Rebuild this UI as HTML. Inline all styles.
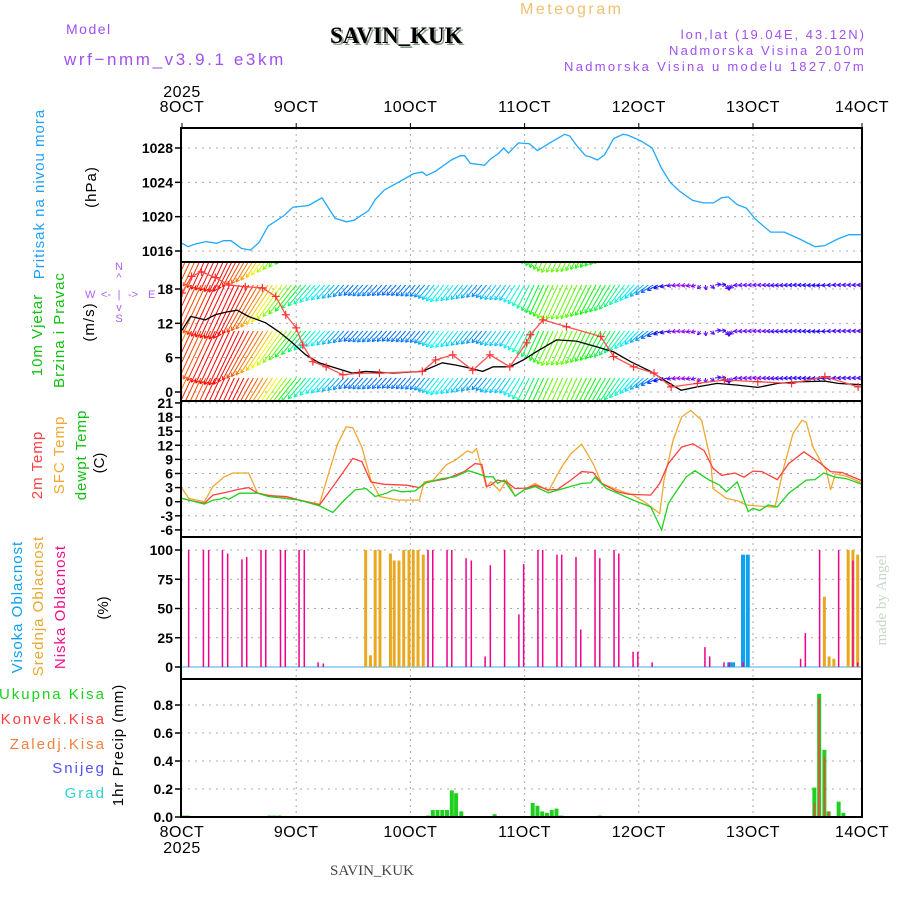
<!DOCTYPE html>
<html><head><meta charset="utf-8">
<style>
body{margin:0;background:#fff;}
svg{display:block;font-family:"Liberation Sans",sans-serif;}
.tk{font-size:14px;font-weight:bold;fill:#000;text-anchor:end;}
.dl{font-size:16px;fill:#000;text-anchor:middle;letter-spacing:0.5px;}
</style></head>
<body>
<svg id="chart" width="900" height="900" viewBox="0 0 900 900">
<defs>
<clipPath id="cpP"><rect x="181" y="128" width="681" height="134"/></clipPath>
<clipPath id="cpW"><rect x="181" y="263" width="681" height="137"/></clipPath>
<clipPath id="cpT"><rect x="181" y="402" width="681" height="134"/></clipPath>
<clipPath id="cpAll"><rect x="181" y="128" width="681" height="700"/></clipPath>
</defs>
<g>
<text x="66" y="34" font-size="14" fill="#a050f0" letter-spacing="1.5">Model</text>
<text x="64" y="65" font-size="17" fill="#a050f0" letter-spacing="2.6">wrf−nmm_v3.9.1 e3km</text>
<text x="332" y="45" font-size="23" font-weight="bold" font-family="Liberation Serif,serif" fill="#8a9a8a">SAVIN_KUK</text>
<text x="330" y="43" font-size="23" font-weight="bold" font-family="Liberation Serif,serif" fill="#000">SAVIN_KUK</text>
<text x="520" y="14" font-size="16" fill="#f0c070" letter-spacing="2.5">Meteogram</text>
<text x="866" y="39" font-size="13" fill="#a050f0" text-anchor="end" letter-spacing="2">lon,lat (19.04E, 43.12N)</text>
<text x="866" y="55" font-size="13" fill="#a050f0" text-anchor="end" letter-spacing="2.2">Nadmorska Visina 2010m</text>
<text x="866" y="71" font-size="13" fill="#a050f0" text-anchor="end" letter-spacing="2.3">Nadmorska Visina u modelu 1827.07m</text>
</g>
<g id="axes"></g>
<g id="marks"></g>
<g font-size="15">
<text transform="translate(44,194) rotate(-90)" text-anchor="middle" fill="#20a0ff" letter-spacing="1">Pritisak na nivou mora</text>
<text transform="translate(96,187) rotate(-90)" text-anchor="middle" fill="#000" letter-spacing="1">(hPa)</text>
<text transform="translate(42,335) rotate(-90)" text-anchor="middle" fill="#10c010" letter-spacing="1">10m Vjetar</text>
<text transform="translate(64,330) rotate(-90)" text-anchor="middle" fill="#10c010" letter-spacing="1">Brzina i Pravac</text>
<text transform="translate(94,322) rotate(-90)" text-anchor="middle" fill="#000" letter-spacing="1">(m/s)</text>
<g fill="#b060f0" font-size="11">
<text x="119" y="270" text-anchor="middle">N</text>
<text x="119" y="281" text-anchor="middle">^</text>
<text x="85" y="298">W</text>
<text x="101" y="298">&lt;-</text>
<text x="119" y="298" text-anchor="middle">|</text>
<text x="128" y="298">-&gt;</text>
<text x="148" y="298">E</text>
<text x="119" y="311" text-anchor="middle">v</text>
<text x="119" y="322" text-anchor="middle">S</text>
</g>
<text transform="translate(42,465) rotate(-90)" text-anchor="middle" fill="#ff4040" letter-spacing="1">2m Temp</text>
<text transform="translate(64,455) rotate(-90)" text-anchor="middle" fill="#f0a830" letter-spacing="1">SFC Temp</text>
<text transform="translate(86,455) rotate(-90)" text-anchor="middle" fill="#10c010" letter-spacing="1">dewpt Temp</text>
<text transform="translate(104,463) rotate(-90)" text-anchor="middle" fill="#000">(C)</text>
<text transform="translate(22,607) rotate(-90)" text-anchor="middle" fill="#10a0f0" letter-spacing="1">Visoka Oblacnost</text>
<text transform="translate(43,606) rotate(-90)" text-anchor="middle" fill="#e8a830" letter-spacing="1">Srednja Oblacnost</text>
<text transform="translate(65,607) rotate(-90)" text-anchor="middle" fill="#f0108c" letter-spacing="1">Niska Oblacnost</text>
<text transform="translate(108,608) rotate(-90)" text-anchor="middle" fill="#000">(%)</text>
<text x="106" y="699" text-anchor="end" fill="#20d020" letter-spacing="2">Ukupna  Kisa</text>
<text x="106" y="724" text-anchor="end" fill="#ff4040" letter-spacing="2">Konvek.Kisa</text>
<text x="106" y="749" text-anchor="end" fill="#f08040" letter-spacing="2">Zaledj.Kisa</text>
<text x="106" y="773" text-anchor="end" fill="#5050ff" letter-spacing="2">Snijeg</text>
<text x="106" y="798" text-anchor="end" fill="#30d0d0" letter-spacing="2">Grad</text>
<text transform="translate(123,745) rotate(-90)" text-anchor="middle" fill="#000" letter-spacing="1">1hr Precip (mm)</text>
</g>
<text transform="translate(886,600) rotate(-90)" text-anchor="middle" font-size="15" font-family="Liberation Serif,serif" fill="#c8d8c8">made by Angel</text>
<text x="330" y="875" font-size="15" font-family="Liberation Serif,serif" fill="#444">SAVIN_KUK</text>
</svg>
<script>
// ---------- DATA ----------
const dayLabels = ["8OCT","9OCT","10OCT","11OCT","12OCT","13OCT","14OCT"];
const presTicks = [1016,1020,1024,1028];
const windTicks = [0,6,12,18];
const tempTicks = [-6,-3,0,3,6,9,12,15,18,21];
const cloudTicks = [0,25,50,75,100];
const precipTicks = [0,0.2,0.4,0.6,0.8];

const presHours = [0,1.3,2.7,5,7.3,8.7,10.3,12.5,14.4,16.2,18.1,21.4,23.3,26.6,29.4,32.2,34.6,36.2,39.2,40.6,42.5,45.8,48.6,50.5,51.4,53.3,56.6,58.5,59.4,60.6,63.6,64.8,66.6,67.6,68.6,70.7,73,74.7,77.3,80.4,81.5,82.9,84.8,85.7,87.3,88.8,90.7,92.7,93.7,96.5,98.8,100.7,102.6,104.5,107.3,109.6,111.7,113.4,114.8,116.7,118.6,120.5,123.7,126.6,129.8,133,135,137.8,140.2,142.5,144];
const presVals = [1016.9,1016.5,1016.8,1017.1,1016.9,1017.2,1017.2,1016.3,1016.1,1017,1018.9,1020.1,1021.1,1021.3,1022.2,1019.8,1019.4,1019.6,1020.7,1022,1023.1,1024.1,1025,1025.2,1024.8,1025.3,1026.6,1027.1,1027.1,1026.2,1026,1026.7,1027.4,1028,1027.4,1028.6,1028.5,1027.7,1028.6,1029.6,1029.4,1028.3,1027.1,1027,1026.6,1027.2,1029.1,1029.6,1029.5,1028.8,1028,1025.7,1024,1023,1021.9,1021.6,1021.6,1022.2,1022.3,1021.4,1021,1019.7,1018.2,1018.2,1017.4,1016.5,1016.6,1017.4,1017.9,1017.9,1018];

const windHours = [0,1.8,3.5,4.9,7,9.5,11.6,14,17.6,20.4,23.2,26,28.8,32.3,35.8,38.6,44.2,50.5,54.7,57.6,60.4,63.2,65.4,68.9,71.7,74.4,78.7,82.9,87.1,90.7,94.3,98.5,101.3,104.9,108.3,112.5,116.7,121,125.2,130.2,135.1,137.9,144];
const windSpeed = [10.8,13.2,12.9,12.6,13.5,14,14.3,13.2,12.1,10.5,8.6,6.5,5.1,4.2,3.3,3.6,3.3,3.6,5.1,4.7,4.2,3.6,4.4,4.4,5.6,7,9.1,8.9,7.9,7,5.3,3.6,2.1,0.3,0.9,1.5,1.2,0.8,1.5,1.8,1.9,1.5,1.2];
const windDir = [205,205,205,205,205,205,205,208,212,215,218,220,222,222,222,222,222,220,218,218,220,220,218,215,210,205,205,205,208,212,220,235,250,265,250,60,265,270,265,270,265,270,270];

const gustHours = [0,2,4.1,7,9.8,13.3,16.9,19.7,21.8,24,25.4,27.5,30.3,33.8,37.3,41.5,50.5,53.3,56.9,61.1,64.7,68.9,72.4,73.2,75.9,80.8,88,90.7,94.9,99.2,102.8,108.3,114,121,128.1,135.1,142.1];
const gustVals = [17.3,20.2,21,20,18.7,18.4,18.2,16.7,13.5,11.2,8.2,5.3,4.4,3,3.3,3.3,3.6,5.6,6.5,3.8,6.5,4.4,8.6,10,12.6,11.4,9.7,6.2,4.4,3.3,0.9,1.5,2.1,1.8,1.5,2.7,0.9];

const t2Hours = [0,1.4,4.7,6.5,9.8,11.7,14,15.9,18.2,21.9,24.7,28.9,32.7,35.9,37.8,39.7,42.5,47.2,49.9,51.4,55.6,59.3,61.6,63,64,64.9,66.3,68.2,70,72.4,74.2,77,78.9,81.7,84,86.4,88.2,91.5,93.8,98.5,100.4,102.2,105,107.4,109.7,111.6,113.4,116.2,118.1,120,121.9,125.1,127.5,130.7,134,136.3,138.7,144];
const t2Vals = [0.7,0.35,-0.35,1.4,2.1,2.6,3,1.8,1.3,1.1,0.35,-0.7,4.6,9.2,8.5,4.2,3.7,3.5,3,4.1,4.9,6.4,8.1,7.9,3.3,3.5,4.6,4.2,2.8,2.9,3.5,2.5,2.6,4.6,6.4,6.2,3.9,2.1,1.6,1.4,3.9,8.1,11.6,12.3,10.9,7.1,5.6,6.1,5.2,6.5,6.4,4.7,8.1,10.6,8.3,6.4,6.2,4.0];
const sfcHours = [0,1.4,4.7,6.5,8.9,10.7,14,15.9,18.2,24.7,28.9,30.8,32.7,34.5,35.9,37.8,39.7,41.5,45.3,49.9,50.9,52.8,55.6,57.4,60,61,61.9,64,64.9,66.8,68.2,70,71.9,74.2,77,79.8,81.7,84,86.4,88.2,91.5,94.8,97.6,100.4,101.3,103.2,105,106.9,109.2,111.1,111.6,114.4,116.7,118.6,120.9,124.6,126.5,128.4,130.3,131.2,132.6,134.5,135.4,136.3,137.3,139.6,144];
const sfcVals = [2.8,0.7,0,3.2,5.3,6.1,6.1,1.8,1.4,0.35,-0.5,6,12.3,15.9,15.7,11.6,4.6,1.1,0.35,0.35,4.2,4.6,7.9,8.8,10.8,10.4,11.3,3,4.2,2.3,4.6,1.2,2.5,3.9,2.3,7.4,10.2,12.2,8.1,3.9,2.5,1.4,-0.35,-2.5,4.6,13.1,18,19.4,17.3,8.8,2.8,0.7,0.2,-0.7,-0.9,-1.2,7.4,14.5,17.3,16.9,11.6,8.1,6.7,2.5,5.9,5.4,3.5];
const dewHours = [0,4.7,6.5,7.9,8.9,9.8,12.1,15.9,18.2,24.7,28.9,31.7,34.1,36.4,38.7,40.6,43,44.4,46.2,49,50.9,54.6,57.4,60.2,62.1,64,65.4,66.3,67.7,70,71.9,74.2,77,80.8,84,85.9,86.8,89.2,92,94.8,98.5,100.8,102.2,103.6,106,107.8,110.6,113,114.4,116.7,119,120,121.4,123.2,125.1,127.5,131.2,133,134.9,137.3,139.6,144];
const dewVals = [0.7,-0.5,0.35,0.5,0.9,0.5,1.8,1.8,1.1,0.35,-0.9,-2.3,0.35,2.5,2.8,1.1,1.8,2.5,2.1,2.3,3.9,4.9,5.3,6.6,6,5.3,5.3,3.9,4.6,1.2,2.5,3.2,1.9,3,3.9,4,5.2,2.8,1.6,0.35,-1.1,-6,-0.4,1.8,5.3,6.6,4.7,3.5,2.1,4.2,-2.1,-1.4,-1.9,-0.7,-1.1,1.8,4.6,4.7,6.1,5.2,4.9,3.3];

const lowHours = [1.4,4.5,5.6,8.5,9.6,12.6,13.6,16.6,17.6,20.7,21.7,24.6,25.7,28.6,29.7,51.7,52.7,55.7,56.7,59.7,60.8,63.7,64.8,67.8,70.8,71.8,74.8,75.8,78.8,79.8,82.8,83.8,86.8,87.8,90.8,91.8,94.8,95.8,98.8,109.9,110.9,113.9,115,117.9,130,131,134,138,141,142];
const lowVals = [100,100,100,100,97,92,94,100,100,100,100,100,100,4,3,100,100,100,100,93,91,9,87,100,45,88,100,100,96,96,94,32,100,93,100,97,13,13,4,17,9,4,4,4,7,29,100,100,91,4];
const midHours = [38.6,39.6,40.6,41.6,43.8,44.6,45.6,46.6,47.7,48.6,49.6,50.7,135,136,137,140,141,142,143];
const midVals = [100,10,100,100,97,91,91,100,100,100,100,96,60,9,7,100,100,96,100];
const highHours = [115,115.8,117.9,118.9];
const highVals = [4,4,96,96];

const precHours = [0.3,1.2,18.4,19.4,20.5,51.7,52.7,53.7,54.7,55.7,56.7,57.6,58.7,65.7,73.7,74.7,75.7,76.7,77.7,78.7,79.7,87.8,132.9,133.9,135,135.9,138,139];
const precTotal = [0.01,0.01,0.01,0.01,0.01,0.01,0.05,0.05,0.05,0.05,0.19,0.17,0.04,0.02,0.1,0.08,0.04,0.03,0.05,0.06,0.01,0.01,0.21,0.88,0.48,0.04,0.11,0.03];
const convHours = [132.9,133.9,135,135.9];
const convVals = [0.1,0.85,0.43,0.04];

// ---------- SCALES ----------
const X0=181, X1=862;
function xs(h){return 182 + h*114.2/24;}
function yP(p){return 251 - (p-1016)*(251-148)/12;}
function yW(v){return 392 - v*(392-289)/18;}
function yT(t){return 501.7 - t*(127/27);}
function yC(c){return 667 - c*1.17;}
function yR(r){return 817 - r*140;}

const NS="http://www.w3.org/2000/svg";
const axes=document.getElementById('axes'), marks=document.getElementById('marks');
function mk(tag, attrs, parent){const e=document.createElementNS(NS,tag);for(const k in attrs)e.setAttribute(k,attrs[k]);(parent||marks).appendChild(e);return e;}

const panels=[[128,262,presTicks,yP,'pressure'],[262,401,windTicks,yW,'wind'],[401,537,tempTicks,yT,'temperature'],[537,679,cloudTicks,yC,'cloud'],[679,817,precipTicks,yR,'precip']];
panels.forEach(p=>{
  const [t,b,ticks,f,name]=p;
  for(let d=1;d<6;d++){
    const gl=mk('line',{x1:xs(d*24),x2:xs(d*24),y1:t,y2:b,stroke:'#aaa','stroke-dasharray':'2,4','stroke-width':1},axes);
    
    
  }
  ticks.forEach(v=>{
    const y=f(v);
    const g=mk('line',{x1:X0,x2:X1,y1:y,y2:y,stroke:'#aaa','stroke-dasharray':'2,5','stroke-width':1},axes);
    
    
    const tk=mk('line',{x1:X0-6,x2:X0,y1:y,y2:y,stroke:'#000','stroke-width':1.5},axes);
    
    
    const lb=mk('text',{x:X0-8,y:y+5,class:'tk'},axes);
    lb.textContent = name==='precip' ? v.toFixed(1) : String(v);
    
    
  });
});
dayLabels.forEach((d,i)=>{
  const x=Math.min(X1,xs(i*24));
  const t1=mk('text',{x:x,y:112,class:'dl'},axes); t1.textContent=d;
  
  
  const t2=mk('text',{x:x,y:837,class:'dl'},axes); t2.textContent=d;
  
  
  const k1=mk('line',{x1:x,x2:x,y1:123,y2:128,stroke:'#000'},axes);
  
  
});
const yr1=mk('text',{x:xs(0),y:97,class:'dl'},axes); yr1.textContent='2025';


const yr2=mk('text',{x:xs(0),y:853,class:'dl'},axes); yr2.textContent='2025';



function line(hs,vs,f,color,name,clip){
  const pts=hs.map((h,i)=>xs(h).toFixed(1)+','+f(vs[i]).toFixed(1)).join(' ');
  const e=mk('polyline',{points:pts,fill:'none',stroke:color,'stroke-width':1.3,'clip-path':'url(#'+clip+')'});
  
  
}
line(presHours,presVals,yP,'#20a8ff','pressure-line','cpP');

function interp(hs,vs,h){
  if(h<=hs[0])return vs[0];
  for(let i=1;i<hs.length;i++){if(h<=hs[i]){const f=(h-hs[i-1])/(hs[i]-hs[i-1]);return vs[i-1]+f*(vs[i]-vs[i-1]);}}
  return vs[vs.length-1];
}
const wg=mk('g',{'clip-path':'url(#cpW)'});


const anchors=[238,285,331,378];
for(let h=0;h<=144;h+=1){
  const s=interp(windHours,windSpeed,h), d=interp(windHours,windDir,h)*Math.PI/180;
  const hue=Math.max(0,Math.min(285,285-s*21));
  const col='hsl('+hue+',95%,50%)';
  const L=Math.max(5,s*4.2);
  const dx=L*Math.sin(d), dy=-L*Math.cos(d);
  anchors.forEach(a=>{
    const x=xs(h);
    const ar=mk('line',{x1:x,y1:a,x2:x+dx,y2:a+dy,stroke:col,'stroke-width':1},wg);
    
    
    const ang=Math.atan2(dy,dx);
    [0.5,-0.5].forEach(o=>{
      const hd=mk('line',{x1:x+dx,y1:a+dy,x2:x+dx-4*Math.cos(ang+o),y2:a+dy-4*Math.sin(ang+o),stroke:col,'stroke-width':1},wg);
      
      
    });
  });
}
line(windHours,windSpeed,yW,'#000','wind-speed-line','cpW');
line(gustHours,gustVals,yW,'#ff5050','wind-gust-line','cpW');
gustHours.forEach((h,i)=>{
  const x=xs(h),y=yW(gustVals[i]);
  const m=mk('path',{d:'M'+(x-4)+','+y+'h8M'+x+','+(y-4)+'v8',stroke:'#ff3030','stroke-width':1.2,'clip-path':'url(#cpW)'});
  
  
});

line(sfcHours,sfcVals,yT,'#f0a830','sfc-temp-line','cpT');
line(t2Hours,t2Vals,yT,'#ff4040','temp-2m-line','cpT');
line(dewHours,dewVals,yT,'#20d020','dewpoint-line','cpT');

const cb=mk('line',{x1:X0,x2:X1,y1:yC(0),y2:yC(0),stroke:'#80c8f0','stroke-width':1.5});


function bars(hs,vs,f,w,color,name){
  hs.forEach((h,i)=>{
    const y=f(vs[i]);
    const r=mk('rect',{x:xs(h)-w/2,y:y,width:w,height:Math.max(0,f(0)-y),fill:color,'clip-path':'url(#cpAll)'});
    
    
  });
}
bars(midHours,midVals,yC,3,'#e8a820','mid-cloud-bar');
bars(highHours,highVals,yC,4,'#10a0f0','high-cloud-bar');
bars(lowHours,lowVals,yC,1.5,'#f0008c','low-cloud-bar');

bars(precHours,precTotal,yR,4,'#20d020','total-precip-bar');
bars(convHours,convVals,yR,1.5,'#ff4040','convective-precip-bar');

panels.forEach(p=>{
  const fr=mk('rect',{x:X0,y:p[0],width:X1-X0,height:p[1]-p[0],fill:'none',stroke:'#000','stroke-width':2},axes.parentNode);
  
  
});
</script>
</body></html>
